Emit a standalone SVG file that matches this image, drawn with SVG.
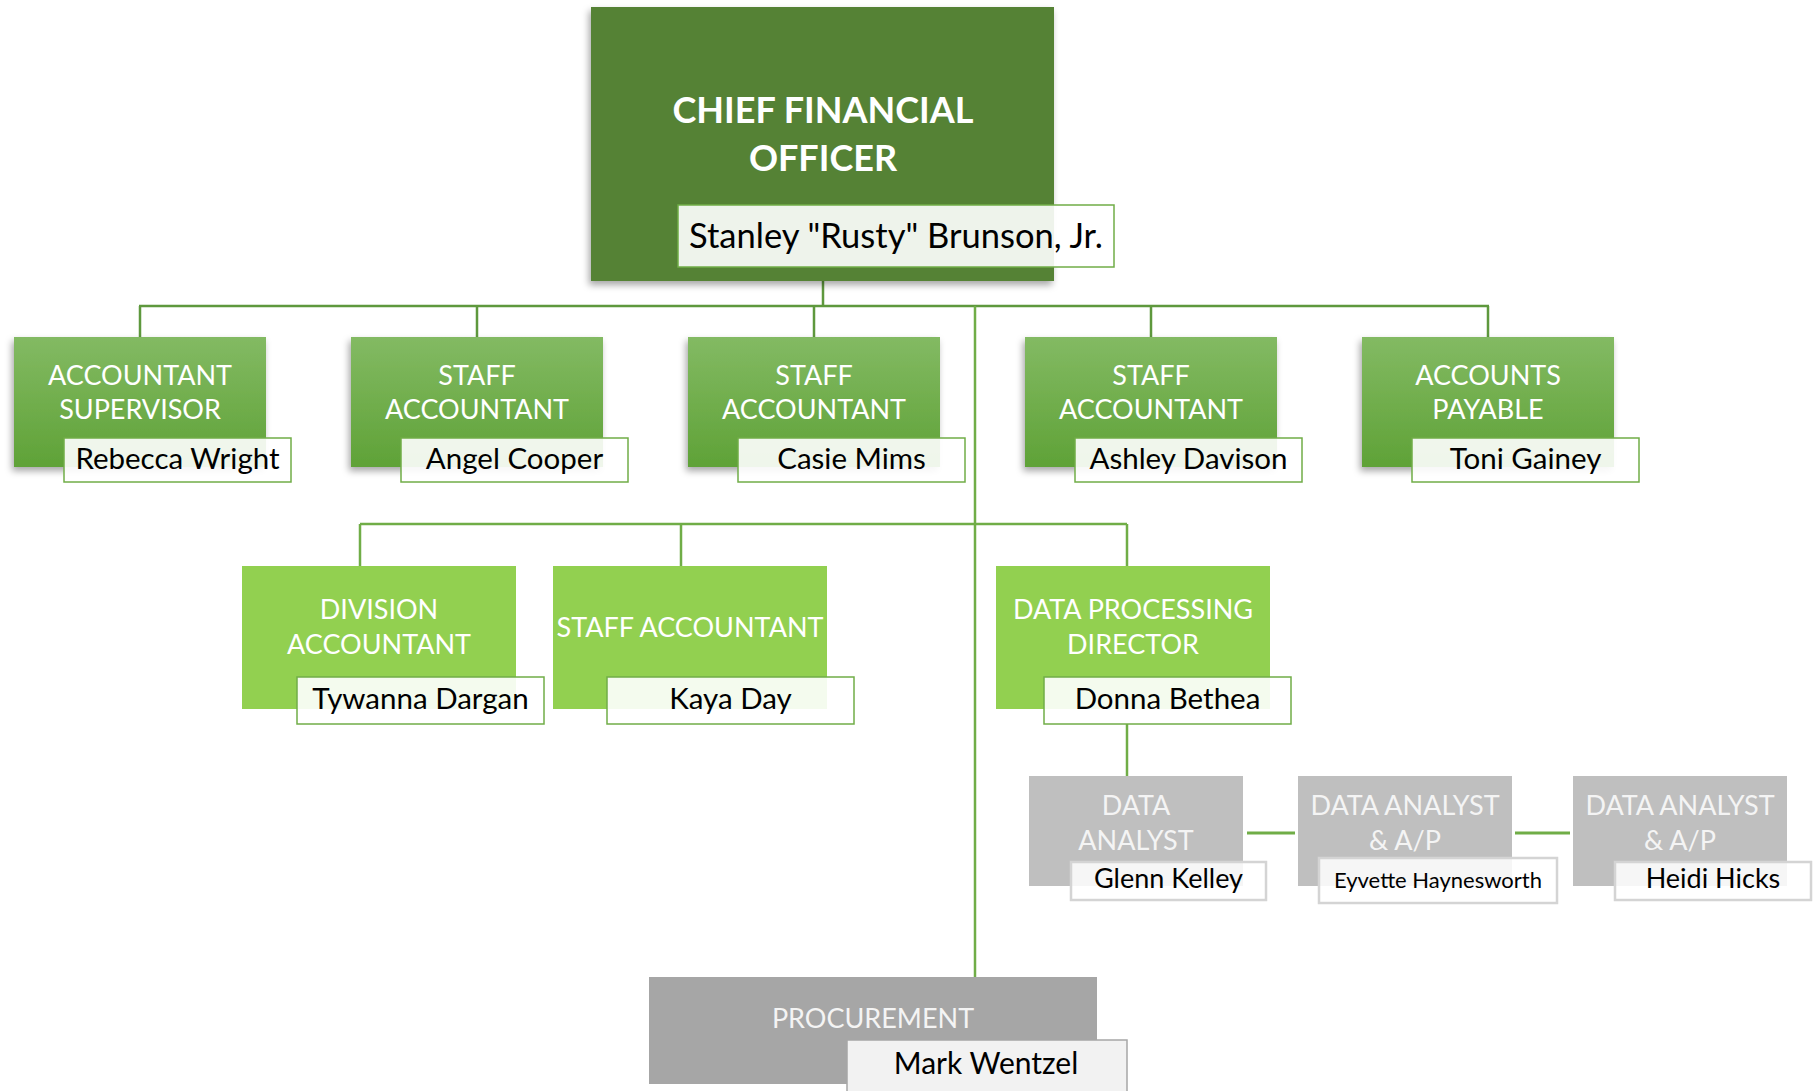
<svg xmlns="http://www.w3.org/2000/svg" width="1817" height="1091" viewBox="0 0 1817 1091">
<defs>
<linearGradient id="gTop" x1="0" y1="0" x2="0" y2="1">
<stop offset="0" stop-color="#83ba63"/>
<stop offset="1" stop-color="#5fa237"/>
</linearGradient>
<filter id="sh" x="-10%" y="-10%" width="120%" height="125%">
<feDropShadow dx="-2" dy="4" stdDeviation="3.5" flood-color="#000" flood-opacity="0.35"/>
</filter>
</defs>
<style>
text{font-family:Lato,"Open Sans","Liberation Sans",sans-serif;text-anchor:middle}
.ttl{fill:#fff;font-size:27px}
.ttlg{fill:#f4f4f4;font-size:27px}
.cfo{fill:#fff;font-size:36px;font-weight:bold}
.nm{fill:#000;font-size:29.5px}
.nmg{fill:#000;font-size:27px}
.nbg{fill:#fff;fill-opacity:.9;stroke:#70ad47;stroke-width:1.5}
.nby{fill:#fff;fill-opacity:.85;stroke:#d4d4d4;stroke-width:2.5}
.top{fill:url(#gTop);filter:url(#sh)}
.mid{fill:#92d050}
.gry{fill:#bfbfbf}
.c1{stroke:#5e983d;stroke-width:2.5;fill:none}
.c2{stroke:#70ad47;stroke-width:2.5;fill:none}
.c3{stroke:#70ad47;stroke-width:3;fill:none}
</style>
<g id="connectors">
<path class="c1" d="M823 280V306M139 306H1489M140 306V337M477 306V337M814 306V337M1151 306V337M1488 306V337"/>
<path class="c2" d="M975 306V977"/>
<path class="c2" d="M360 524H1127M360 524V566M681 524V566M1127 524V566"/>
<path class="c2" d="M1127 724V776"/>
<path class="c3" d="M1247 833H1295M1515 833H1570"/>
</g>
<g id="cfo">
<rect x="591" y="7" width="463" height="274" fill="#548235" filter="url(#sh)"/>
<text class="cfo" x="823" y="123">CHIEF FINANCIAL</text>
<text class="cfo" x="823" y="171">OFFICER</text>
<rect class="nbg" x="678" y="205" width="436" height="62"/>
<text class="nm" x="896" y="248" style="font-size:34.5px">Stanley "Rusty" Brunson, Jr.</text>
</g>
<g id="accountant-supervisor">
<rect class="top" x="14" y="337" width="252" height="130"/>
<text class="ttl" x="140" y="385">ACCOUNTANT</text>
<text class="ttl" x="140" y="419">SUPERVISOR</text>
<rect class="nbg" x="64" y="438" width="227" height="44"/>
<text class="nm" x="177.5" y="469">Rebecca Wright</text>
</g>
<g id="staff-accountant-1">
<rect class="top" x="351" y="337" width="252" height="130"/>
<text class="ttl" x="477" y="385">STAFF</text>
<text class="ttl" x="477" y="419">ACCOUNTANT</text>
<rect class="nbg" x="401" y="438" width="227" height="44"/>
<text class="nm" x="514.5" y="469">Angel Cooper</text>
</g>
<g id="staff-accountant-2">
<rect class="top" x="688" y="337" width="252" height="130"/>
<text class="ttl" x="814" y="385">STAFF</text>
<text class="ttl" x="814" y="419">ACCOUNTANT</text>
<rect class="nbg" x="738" y="438" width="227" height="44"/>
<text class="nm" x="851.5" y="469">Casie Mims</text>
</g>
<g id="staff-accountant-3">
<rect class="top" x="1025" y="337" width="252" height="130"/>
<text class="ttl" x="1151" y="385">STAFF</text>
<text class="ttl" x="1151" y="419">ACCOUNTANT</text>
<rect class="nbg" x="1075" y="438" width="227" height="44"/>
<text class="nm" x="1188.5" y="469">Ashley Davison</text>
</g>
<g id="accounts-payable">
<rect class="top" x="1362" y="337" width="252" height="130"/>
<text class="ttl" x="1488" y="385">ACCOUNTS</text>
<text class="ttl" x="1488" y="419">PAYABLE</text>
<rect class="nbg" x="1412" y="438" width="227" height="44"/>
<text class="nm" x="1525.5" y="469">Toni Gainey</text>
</g>
<g id="division-accountant">
<rect class="mid" x="242" y="566" width="274" height="143"/>
<text class="ttl" x="379" y="619">DIVISION</text>
<text class="ttl" x="379" y="654">ACCOUNTANT</text>
<rect class="nbg" x="297" y="677" width="247" height="47"/>
<text class="nm" x="420.5" y="709">Tywanna Dargan</text>
</g>
<g id="staff-accountant-4">
<rect class="mid" x="553" y="566" width="274" height="143"/>
<text class="ttl" x="690" y="637">STAFF ACCOUNTANT</text>
<rect class="nbg" x="607" y="677" width="247" height="47"/>
<text class="nm" x="730.5" y="709">Kaya Day</text>
</g>
<g id="data-processing-director">
<rect class="mid" x="996" y="566" width="274" height="143"/>
<text class="ttl" x="1133" y="619">DATA PROCESSING</text>
<text class="ttl" x="1133" y="654">DIRECTOR</text>
<rect class="nbg" x="1044" y="677" width="247" height="47"/>
<text class="nm" x="1167.5" y="709">Donna Bethea</text>
</g>
<g id="data-analyst">
<rect class="gry" x="1029" y="776" width="214" height="110"/>
<text class="ttlg" x="1136" y="815">DATA</text>
<text class="ttlg" x="1136" y="850">ANALYST</text>
<rect class="nby" x="1071" y="862" width="195" height="38"/>
<text class="nmg" x="1168.5" y="888">Glenn Kelley</text>
</g>
<g id="data-analyst-ap-1">
<rect class="gry" x="1298" y="776" width="214" height="110"/>
<text class="ttlg" x="1405" y="815">DATA ANALYST</text>
<text class="ttlg" x="1405" y="850">&amp; A/P</text>
<rect class="nby" x="1319" y="858" width="238" height="45"/>
<text class="nmg" x="1438" y="888" style="font-size:22px">Eyvette Haynesworth</text>
</g>
<g id="data-analyst-ap-2">
<rect class="gry" x="1573" y="776" width="214" height="110"/>
<text class="ttlg" x="1680" y="815">DATA ANALYST</text>
<text class="ttlg" x="1680" y="850">&amp; A/P</text>
<rect class="nby" x="1615" y="862" width="196" height="38"/>
<text class="nmg" x="1713" y="888">Heidi Hicks</text>
</g>
<g id="procurement">
<rect x="649" y="977" width="448" height="107" fill="#a6a6a6"/>
<text class="ttlg" x="873" y="1028">PROCUREMENT</text>
<rect x="847" y="1040" width="280" height="60" fill="#f2f2f2" stroke="#a6a6a6" stroke-width="1.5"/>
<text class="nm" x="986" y="1074" style="font-size:30px">Mark Wentzel</text>
</g>
</svg>
